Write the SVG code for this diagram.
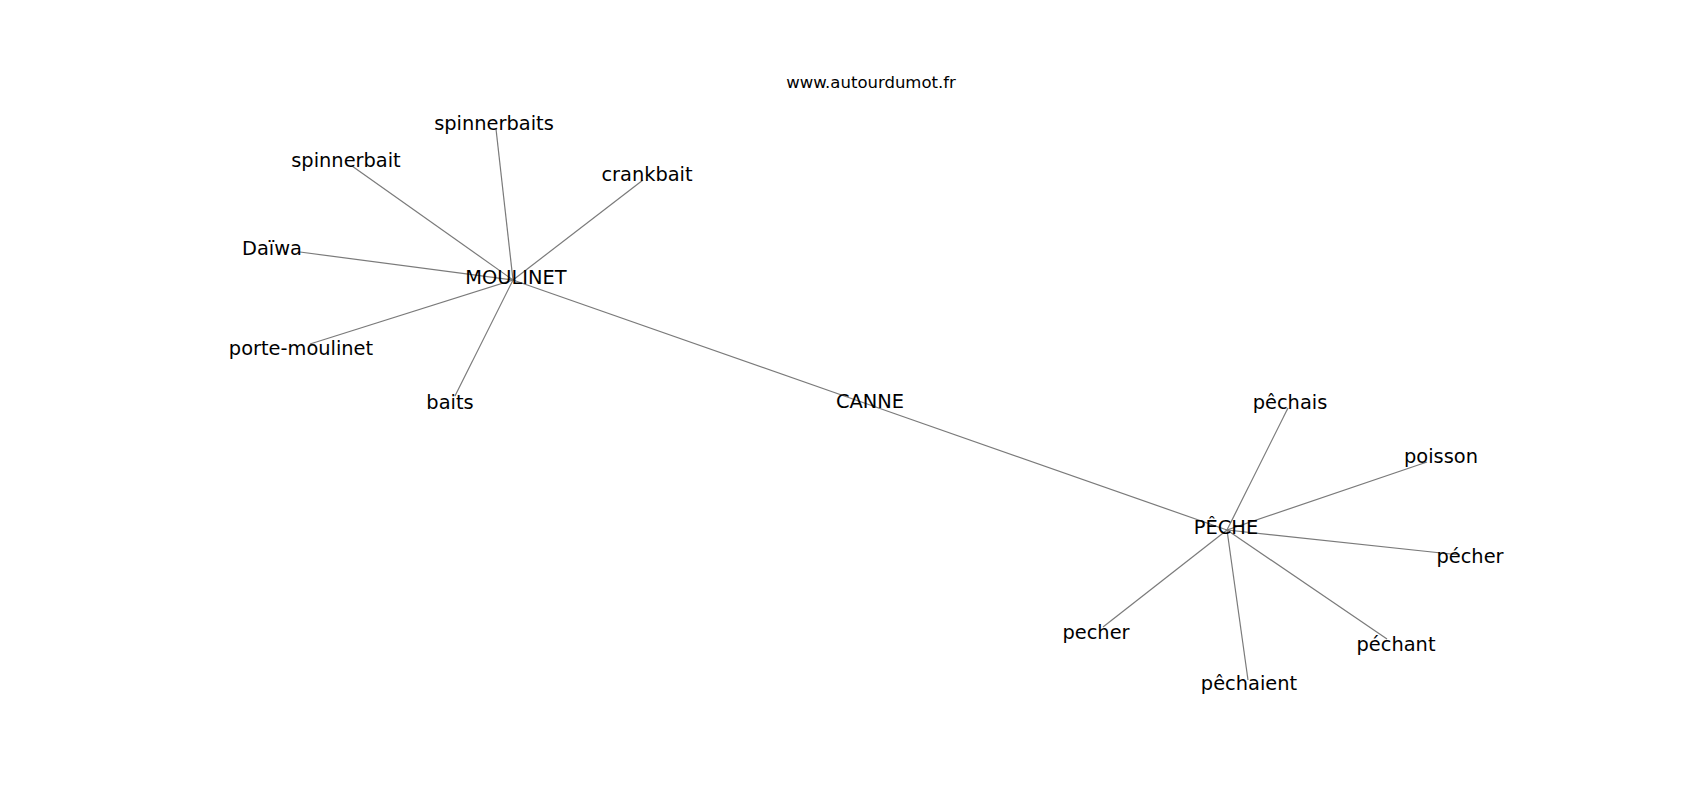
<svg xmlns="http://www.w3.org/2000/svg" width="1700" height="800" viewBox="0 0 1700 800">
<style>
.e{stroke:#7a7a7a;stroke-width:1.2;fill:none}
.n{font-family:"DejaVu Sans",sans-serif;font-size:19.4px;fill:#000;text-anchor:middle}
.h{font-family:"DejaVu Sans",sans-serif;font-size:16.5px;fill:#000;text-anchor:middle}
</style>
<rect width="1700" height="800" fill="#fff"/>
<text class="h" x="871" y="88">www.autourdumot.fr</text>
<g id="edges">
<line class="e" x1="513" y1="280" x2="870" y2="405"/>
<line class="e" x1="870" y1="405" x2="1227" y2="530"/>
<line class="e" x1="513" y1="280" x2="496" y2="129"/>
<line class="e" x1="513" y1="280" x2="352" y2="166"/>
<line class="e" x1="513" y1="280" x2="643" y2="180"/>
<line class="e" x1="513" y1="280" x2="300" y2="252"/>
<line class="e" x1="513" y1="280" x2="310" y2="344"/>
<line class="e" x1="513" y1="280" x2="455" y2="396"/>
<line class="e" x1="1227" y1="530" x2="1288" y2="408"/>
<line class="e" x1="1227" y1="530" x2="1427" y2="462"/>
<line class="e" x1="1227" y1="530" x2="1460" y2="555"/>
<line class="e" x1="1227" y1="530" x2="1387" y2="639"/>
<line class="e" x1="1227" y1="530" x2="1248" y2="680"/>
<line class="e" x1="1227" y1="530" x2="1103" y2="627"/>
</g>
<g id="n-moulinet"><text class="n" x="516" y="284">MOULINET</text></g>
<g id="n-canne"><text class="n" x="870" y="408">CANNE</text></g>
<g id="n-peche"><text class="n" x="1226" y="534">PÊCHE</text></g>
<g id="n-spinnerbaits"><text class="n" x="494" y="130">spinnerbaits</text></g>
<g id="n-spinnerbait"><text class="n" x="346" y="167">spinnerbait</text></g>
<g id="n-crankbait"><text class="n" x="647" y="181">crankbait</text></g>
<g id="n-daiwa"><text class="n" x="272" y="255">Daïwa</text></g>
<g id="n-porte-moulinet"><text class="n" x="301" y="355">porte-moulinet</text></g>
<g id="n-baits"><text class="n" x="450" y="409">baits</text></g>
<g id="n-pechais"><text class="n" x="1290" y="409">pêchais</text></g>
<g id="n-poisson"><text class="n" x="1441" y="463">poisson</text></g>
<g id="n-pecher2"><text class="n" x="1470" y="563">pécher</text></g>
<g id="n-pechant"><text class="n" x="1396" y="651">péchant</text></g>
<g id="n-pechaient"><text class="n" x="1249" y="690">pêchaient</text></g>
<g id="n-pecher"><text class="n" x="1096" y="639">pecher</text></g>
</svg>
